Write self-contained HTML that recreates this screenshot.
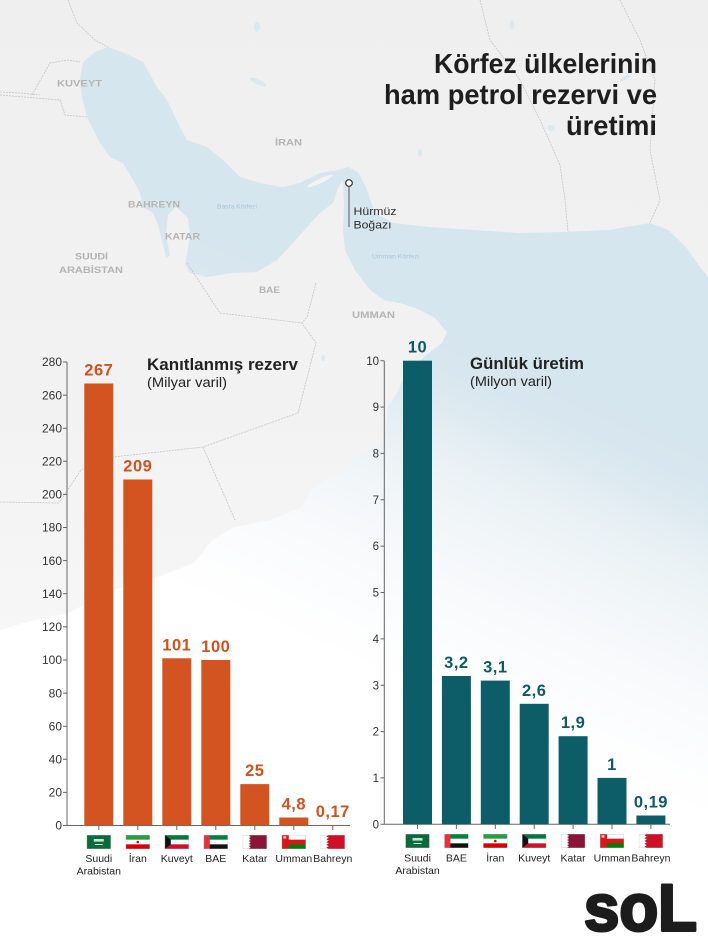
<!DOCTYPE html>
<html><head><meta charset="utf-8"><style>
html,body{margin:0;padding:0;background:#fff;}
svg{display:block;}
text{font-family:"Liberation Sans",sans-serif;}
</style></head><body>
<svg width="708" height="940" viewBox="0 0 708 940" xmlns="http://www.w3.org/2000/svg">
<defs>
<linearGradient id="land" x1="0" y1="0" x2="0" y2="940" gradientUnits="userSpaceOnUse">
<stop offset="0" stop-color="#efefef"/><stop offset="0.43" stop-color="#f2f2f2"/><stop offset="0.64" stop-color="#f6f6f6"/><stop offset="0.8" stop-color="#fcfcfc"/><stop offset="0.92" stop-color="#ffffff"/>
</linearGradient>
<linearGradient id="sea" x1="620" y1="400" x2="480" y2="720" gradientUnits="userSpaceOnUse">
<stop offset="0" stop-color="#d6e6ee"/><stop offset="0.15" stop-color="#d9e7ef"/><stop offset="0.38" stop-color="#ebf2f5"/><stop offset="0.6" stop-color="#f5f8fa"/><stop offset="0.8" stop-color="#fbfcfd"/><stop offset="1" stop-color="#ffffff"/>
</linearGradient>
<symbol id="fSA" viewBox="0 0 24 14"><rect width="24" height="14" fill="#0b6b3a"/><rect x="7" y="4" width="10" height="2.6" fill="#fff" opacity="0.8"/><rect x="8" y="9" width="8" height="0.8" fill="#fff"/><rect width="24" height="14" fill="none" stroke="#bbb" stroke-width="0.6"/></symbol>
<symbol id="fIR" viewBox="0 0 24 14"><rect width="24" height="14" fill="#fff"/><rect width="24" height="4.67" fill="#239f40"/><rect y="9.33" width="24" height="4.67" fill="#da0000"/><circle cx="12" cy="7" r="1.3" fill="#da0000"/><rect width="24" height="14" fill="none" stroke="#bbb" stroke-width="0.6"/></symbol>
<symbol id="fKW" viewBox="0 0 24 14"><rect width="24" height="14" fill="#fff"/><rect width="24" height="4.67" fill="#007a3d"/><rect y="9.33" width="24" height="4.67" fill="#ce1126"/><polygon points="0,0 6,4.67 6,9.33 0,14" fill="#111"/><rect width="24" height="14" fill="none" stroke="#bbb" stroke-width="0.6"/></symbol>
<symbol id="fAE" viewBox="0 0 24 14"><rect width="24" height="14" fill="#fff"/><rect width="24" height="4.67" fill="#00843d"/><rect y="9.33" width="24" height="4.67" fill="#111"/><rect width="6" height="14" fill="#e8313f"/><rect width="24" height="14" fill="none" stroke="#bbb" stroke-width="0.6"/></symbol>
<symbol id="fQA" viewBox="0 0 24 14"><rect width="24" height="14" fill="#fff"/><polygon points="8,0 24,0 24,14 8,14 6,13.2 8,12.4 6,11.6 8,10.8 6,10 8,9.2 6,8.4 8,7.6 6,6.8 8,6 6,5.2 8,4.4 6,3.6 8,2.8 6,2 8,1.2 6,0.6" fill="#8a1538"/><rect width="24" height="14" fill="none" stroke="#bbb" stroke-width="0.6"/></symbol>
<symbol id="fOM" viewBox="0 0 24 14"><rect width="24" height="14" fill="#db161b"/><rect x="7" width="17" height="4.67" fill="#fff"/><rect x="7" y="9.33" width="17" height="4.67" fill="#008000"/><rect x="1.5" y="1.2" width="3" height="2.5" fill="#fff" opacity="0.7"/><rect width="24" height="14" fill="none" stroke="#bbb" stroke-width="0.6"/></symbol>
<symbol id="fBH" viewBox="0 0 24 14"><rect width="24" height="14" fill="#fff"/><polygon points="8,0 24,0 24,14 8,14 5.5,12.6 8,11.2 5.5,9.8 8,8.4 5.5,7 8,5.6 5.5,4.2 8,2.8 5.5,1.4" fill="#ce1126"/><rect width="24" height="14" fill="none" stroke="#bbb" stroke-width="0.6"/></symbol>
</defs>

<!-- MAP -->
<rect width="708" height="940" fill="url(#land)"/>
<polygon fill="url(#sea)" points="83,62 95,52 108,47 122,52 135,58 143,62 157,87 167,100 180,127 187,140 207,147 223,160 240,177 260,183 283,187 300,183 320,173 337,170 348,167 358,172 366,187 375,213 393,223 429,227 474,230 519,233 564,232 609,230 650,223 668,230 686,247 700,267 708,277 708,940 0,940 0,630 23,623 68,613 113,590 158,577 194,563 212,540 235,527 271,520 302,507 311,490 325,480 343,473 352,457 370,450 384,443 388,407 397,393 406,373 424,357 442,343 447,332 435,318 420,310 400,303 384,300 370,290 355,270 345,250 343,230 344,205 343,180 338,188 333,203 320,213 307,227 293,243 277,260 257,272 233,273 207,277 190,273 185,264 187,255 190,235 188,218 176,207 168,215 166,235 170,255 166,258 162,240 158,225 153,213 143,207 140,193 133,180 123,163 110,157 100,143 87,117 82,97 80,80"/>
<!-- islands & lakes -->
<ellipse cx="320" cy="181" rx="14" ry="2.2" transform="rotate(-25 320 181)" fill="#f3f3f3"/>
<ellipse cx="157" cy="204" rx="1.6" ry="4" fill="#f2f2f2"/>
<g fill="#dbe8ef">
<ellipse cx="257" cy="27" rx="3" ry="5"/>
<ellipse cx="258" cy="82" rx="9" ry="2.5" transform="rotate(25 258 82)"/>
<ellipse cx="420" cy="153" rx="2" ry="4"/>
<ellipse cx="551" cy="128" rx="3.5" ry="3"/>
<ellipse cx="512" cy="25" rx="2" ry="5"/>
<ellipse cx="625" cy="78" rx="6" ry="2" transform="rotate(-30 625 78)"/>
<ellipse cx="323" cy="358" rx="2" ry="3"/>
</g>
<!-- borders -->
<g fill="none" stroke="#c4c4c4" stroke-width="0.8" stroke-dasharray="2 1">
<polyline points="0,95 60,100 65,115 87,117"/>
<polyline points="32,95 50,63 67,60 80,62"/>
<polyline points="68,0 77,23 95,40 108,47"/>
<polyline points="0,92 20,93 40,95"/>
<polyline points="187,263 220,313 302,323"/>
<polyline points="316,283 307,317 302,323 316,343 298,413 203,447 113,457 81,470 59,503 0,502"/>
<polyline points="203,447 235,520"/>
<polyline points="480,0 490,40 520,80 540,120 560,165 565,200 568,232"/>
<polyline points="620,0 640,40 655,80 650,150 660,200 650,223"/>
</g>
<!-- map labels -->
<g fill="#b4b4b4" font-weight="bold" font-size="9.5">
<text x="57" y="86.5" textLength="45" lengthAdjust="spacingAndGlyphs">KUVEYT</text>
<text x="275" y="145.5" textLength="27" lengthAdjust="spacingAndGlyphs">İRAN</text>
<text x="128" y="207.5" textLength="52" lengthAdjust="spacingAndGlyphs">BAHREYN</text>
<text x="165" y="239.5" textLength="35" lengthAdjust="spacingAndGlyphs">KATAR</text>
<text x="75" y="259.5" textLength="33" lengthAdjust="spacingAndGlyphs">SUUDİ</text>
<text x="59" y="272.8" textLength="64" lengthAdjust="spacingAndGlyphs">ARABİSTAN</text>
<text x="259" y="292.8" textLength="21" lengthAdjust="spacingAndGlyphs">BAE</text>
<text x="352" y="317.8" textLength="43" lengthAdjust="spacingAndGlyphs">UMMAN</text>
</g>
<g fill="#a7c7d6" font-size="6.5">
<text x="217" y="208.5" textLength="40" lengthAdjust="spacingAndGlyphs">Basra Körfezi</text>
<text x="372" y="258.5" textLength="47" lengthAdjust="spacingAndGlyphs">Umman Körfezi</text>
</g>
<!-- Hormuz marker -->
<line x1="349" y1="186.5" x2="349" y2="227" stroke="#555" stroke-width="1"/>
<circle cx="349" cy="183" r="3.3" fill="#fff" stroke="#333" stroke-width="1.2"/>
<g fill="#2e2e2e" font-size="11">
<text x="353.5" y="215" textLength="43" lengthAdjust="spacingAndGlyphs">Hürmüz</text>
<text x="353.5" y="228.5" textLength="38" lengthAdjust="spacingAndGlyphs">Boğazı</text>
</g>

<!-- TITLE -->
<g fill="#1e1e1e" font-weight="bold" font-size="27.5" text-anchor="end">
<text x="657" y="73" textLength="223" lengthAdjust="spacingAndGlyphs">Körfez ülkelerinin</text>
<text x="657" y="104" textLength="273" lengthAdjust="spacingAndGlyphs">ham petrol rezervi ve</text>
<text x="657" y="135" textLength="91" lengthAdjust="spacingAndGlyphs">üretimi</text>
</g>

<!-- LEFT CHART -->
<text x="147" y="370" font-size="17" font-weight="bold" fill="#222" textLength="151" lengthAdjust="spacingAndGlyphs">Kanıtlanmış rezerv</text>
<text x="147" y="387" font-size="14" fill="#222" textLength="80" lengthAdjust="spacingAndGlyphs">(Milyar varil)</text>
<g fill="#333" font-size="12" text-anchor="end">
<text x="62" y="829.7">0</text><text x="62" y="796.6">20</text><text x="62" y="763.5">40</text><text x="62" y="730.4">60</text><text x="62" y="697.3">80</text><text x="62" y="664.2">100</text><text x="62" y="631.1">120</text><text x="62" y="597.9">140</text><text x="62" y="564.8">160</text><text x="62" y="531.7">180</text><text x="62" y="498.6">200</text><text x="62" y="465.5">220</text><text x="62" y="432.4">240</text><text x="62" y="399.3">260</text><text x="62" y="366.2">280</text>
</g>
<g stroke="#666" stroke-width="1">
<line x1="67" y1="362" x2="67" y2="825.5"/>
<line x1="67" y1="825.5" x2="350" y2="825.5"/>
<path d="M63 825.5H67M63 792.4H67M63 759.3H67M63 726.2H67M63 693.1H67M63 660H67M63 626.9H67M63 593.7H67M63 560.6H67M63 527.5H67M63 494.4H67M63 461.3H67M63 428.2H67M63 395.1H67M63 362H67"/>
<path d="M98.8 825.5V830M137.8 825.5V830M176.8 825.5V830M215.8 825.5V830M254.8 825.5V830M293.8 825.5V830M332.8 825.5V830"/>
</g>
<g fill="#d35420">
<rect x="84.3" y="383.5" width="29" height="442"/>
<rect x="123.3" y="479.5" width="29" height="346"/>
<rect x="162.3" y="658.3" width="29" height="167.2"/>
<rect x="201.3" y="660" width="29" height="165.5"/>
<rect x="240.3" y="784.1" width="29" height="41.4"/>
<rect x="279.3" y="817.5" width="29" height="8"/>
<rect x="318.3" y="825" width="29" height="0.5"/>
</g>
<g fill="#d2521e" font-size="16.5" font-weight="bold" text-anchor="middle" letter-spacing="0.5">
<text x="98.8" y="375.5">267</text>
<text x="137.8" y="471.5">209</text>
<text x="176.8" y="650.3">101</text>
<text x="215.8" y="652">100</text>
<text x="254.8" y="776.1">25</text>
<text x="293.8" y="809.5">4,8</text>
<text x="332.8" y="817.2">0,17</text>
</g>
<use href="#fSA" x="86.8" y="835" width="24" height="14"/>
<use href="#fIR" x="125.8" y="835" width="24" height="14"/>
<use href="#fKW" x="164.8" y="835" width="24" height="14"/>
<use href="#fAE" x="203.8" y="835" width="24" height="14"/>
<use href="#fQA" x="242.8" y="835" width="24" height="14"/>
<use href="#fOM" x="281.8" y="835" width="24" height="14"/>
<use href="#fBH" x="320.8" y="835" width="24" height="14"/>
<g fill="#222" font-size="10.5" text-anchor="middle">
<text x="98.8" y="862">Suudi</text><text x="98.8" y="874.5">Arabistan</text>
<text x="137.8" y="862">İran</text>
<text x="176.8" y="862">Kuveyt</text>
<text x="215.8" y="862">BAE</text>
<text x="254.8" y="862">Katar</text>
<text x="293.8" y="862">Umman</text>
<text x="332.8" y="862">Bahreyn</text>
</g>

<!-- RIGHT CHART -->
<text x="470" y="369" font-size="17" font-weight="bold" fill="#222" textLength="114" lengthAdjust="spacingAndGlyphs">Günlük üretim</text>
<text x="470" y="386" font-size="14" fill="#222" textLength="82" lengthAdjust="spacingAndGlyphs">(Milyon varil)</text>
<g fill="#333" font-size="11.5" text-anchor="end">
<text x="379" y="828.4">0</text><text x="379" y="782">1</text><text x="379" y="735.7">2</text><text x="379" y="689.3">3</text><text x="379" y="643">4</text><text x="379" y="596.6">5</text><text x="379" y="550.2">6</text><text x="379" y="503.9">7</text><text x="379" y="457.5">8</text><text x="379" y="411.2">9</text><text x="379" y="364.8">10</text>
</g>
<g stroke="#666" stroke-width="1">
<line x1="384.3" y1="360.7" x2="384.3" y2="824.3"/>
<line x1="384.3" y1="824.3" x2="670" y2="824.3"/>
<path d="M380.5 824.3H384.3M380.5 777.9H384.3M380.5 731.6H384.3M380.5 685.2H384.3M380.5 638.9H384.3M380.5 592.5H384.3M380.5 546.1H384.3M380.5 499.8H384.3M380.5 453.4H384.3M380.5 407.1H384.3M380.5 360.7H384.3"/>
<path d="M417.5 824.3V829M456.4 824.3V829M495.3 824.3V829M534.2 824.3V829M573.1 824.3V829M612 824.3V829M650.9 824.3V829"/>
</g>
<g fill="#0d5d69">
<rect x="403" y="360.7" width="29" height="463.6"/>
<rect x="441.9" y="676" width="29" height="148.3"/>
<rect x="480.8" y="680.6" width="29" height="143.7"/>
<rect x="519.7" y="703.8" width="29" height="120.5"/>
<rect x="558.6" y="736.2" width="29" height="88.1"/>
<rect x="597.5" y="777.9" width="29" height="46.4"/>
<rect x="636.4" y="815.5" width="29" height="8.8"/>
</g>
<g fill="#0e5a66" font-size="16.5" font-weight="bold" text-anchor="middle" letter-spacing="0.5">
<text x="417.5" y="352.7">10</text>
<text x="456.4" y="668">3,2</text>
<text x="495.3" y="672.6">3,1</text>
<text x="534.2" y="695.8">2,6</text>
<text x="573.1" y="728.2">1,9</text>
<text x="612" y="769.9">1</text>
<text x="650.9" y="807.5">0,19</text>
</g>
<use href="#fSA" x="405.5" y="834" width="24" height="14"/>
<use href="#fAE" x="444.4" y="834" width="24" height="14"/>
<use href="#fIR" x="483.3" y="834" width="24" height="14"/>
<use href="#fKW" x="522.2" y="834" width="24" height="14"/>
<use href="#fQA" x="561.1" y="834" width="24" height="14"/>
<use href="#fOM" x="600" y="834" width="24" height="14"/>
<use href="#fBH" x="638.9" y="834" width="24" height="14"/>
<g fill="#222" font-size="10.5" text-anchor="middle">
<text x="417.5" y="861.5">Suudi</text><text x="417.5" y="874">Arabistan</text>
<text x="456.4" y="861.5">BAE</text>
<text x="495.3" y="861.5">İran</text>
<text x="534.2" y="861.5">Kuveyt</text>
<text x="573.1" y="861.5">Katar</text>
<text x="612" y="861.5">Umman</text>
<text x="650.9" y="861.5">Bahreyn</text>
</g>

<!-- LOGO -->
<text x="584" y="930.5" font-size="66" font-weight="bold" fill="#1c1c1c" stroke="#1c1c1c" stroke-width="3" stroke-linejoin="round" textLength="113" lengthAdjust="spacingAndGlyphs">soL</text>
</svg>
</body></html>
